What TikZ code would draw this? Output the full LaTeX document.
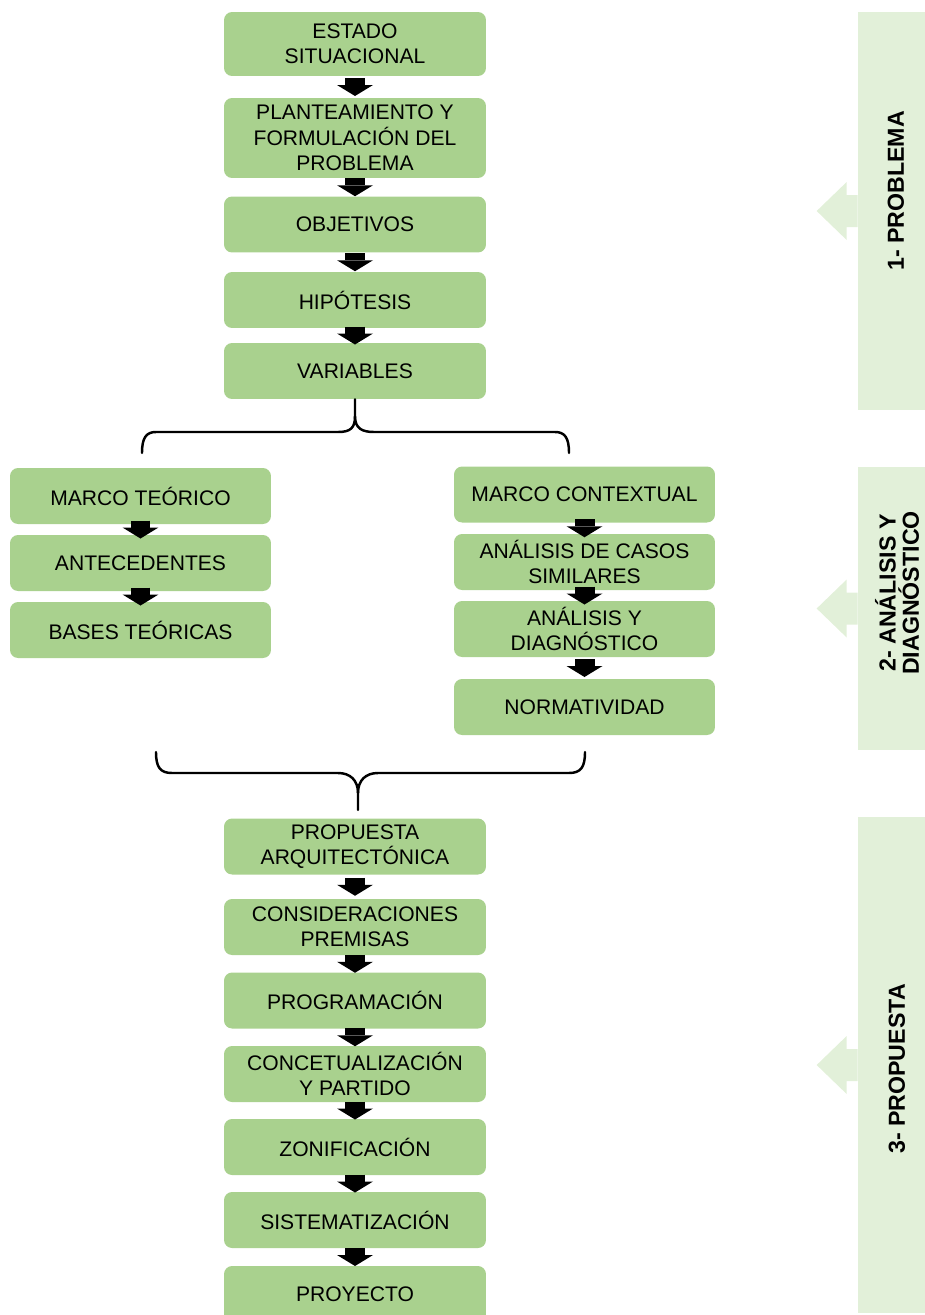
\documentclass[tikz,border=0pt]{standalone}
\usepackage{fontspec}
\setmainfont{Liberation Sans}
\usetikzlibrary{arrows.meta,calc}
\definecolor{boxgreen}{HTML}{A9D18E}
\definecolor{bandgreen}{HTML}{E2F0D9}
\tikzset{
  stage/.style={rectangle, rounded corners=0.16cm, fill=boxgreen, minimum width=5.24cm,
    minimum height=1.12cm, inner sep=0pt, align=center, font=\fontsize{12}{14.4}\selectfont},
  band/.style={rectangle, fill=bandgreen, minimum width=1.34cm, inner sep=0pt},
  bandlabel/.style={rotate=90, align=center, font=\bfseries\fontsize{13.2}{13.2}\selectfont},
  flow/.style={line width=0.4cm, -{Triangle[width=0.72cm,length=0.22cm,line width=0pt]}},
  brace/.style={line width=1.4pt, line cap=round}
}
\begin{document}
\begin{tikzpicture}[x=0.02cm, y=-0.02cm]
    \clip (0,0) rectangle (925,1315);

    % Side bands
    \node[band, minimum height=7.96cm] (pb1) at (891.5,211) {};
    \node[band, minimum height=5.66cm] (pb2) at (891.5,608.5) {};
    \node[band, minimum height=9.92cm] (pb3) at (891.5,1065) {};
    \foreach \b in {pb1,pb2,pb3}
        \fill[bandgreen] ($(\b.west)+(0,-16)$) -- ++(-11,0) -- ++(0,-13) -- ++(-30,29)
            -- ++(30,29) -- ++(0,-13) -- ++(11,0) -- cycle;
    \node[bandlabel] (lb1) at (896,191) {1- PROBLEMA};
    \node[bandlabel] (lb2) at (897,593) {2- ANÁLISIS Y\\DIAGNÓSTICO};
    \node[bandlabel] (lb3) at (897,1069) {3- PROPUESTA};

    % Define node positions
    \node[stage, minimum height=1.28cm] (est) at (355,44) {ESTADO\\SITUACIONAL};
    \node[stage, minimum height=1.6cm] (plan) at (355,138) {PLANTEAMIENTO Y\\FORMULACIÓN DEL\\PROBLEMA};
    \node[stage] (obj) at (355,224.5) {OBJETIVOS};
    \node[stage] (hip) at (355,300) {HIPÓTESIS};
    \node[stage] (var) at (355,371) {VARIABLES};

    \node[stage, minimum width=5.22cm] (mt) at (140.5,496) {MARCO TEÓRICO};
    \node[stage, minimum width=5.22cm] (ant) at (140.5,563) {ANTECEDENTES};
    \node[stage, minimum width=5.22cm] (bt) at (140.5,630) {BASES TEÓRICAS};

    \node[stage, minimum width=5.22cm] (mc) at (584.5,494.5) {MARCO CONTEXTUAL};
    \node[stage, minimum width=5.22cm] (acs) at (584.5,562) {ANÁLISIS DE CASOS\\SIMILARES};
    \node[stage, minimum width=5.22cm] (ad) at (584.5,629) {ANÁLISIS Y\\DIAGNÓSTICO};
    \node[stage, minimum width=5.22cm] (nor) at (584.5,707) {NORMATIVIDAD};

    \node[stage] (prop) at (355,846.5) {PROPUESTA\\ARQUITECTÓNICA};
    \node[stage] (cons) at (355,927) {CONSIDERACIONES\\PREMISAS};
    \node[stage] (prog) at (355,1000.5) {PROGRAMACIÓN};
    \node[stage] (conc) at (355,1074) {CONCETUALIZACIÓN\\Y PARTIDO};
    \node[stage] (zon) at (355,1147) {ZONIFICACIÓN};
    \node[stage] (sist) at (355,1220) {SISTEMATIZACIÓN};
    \node[stage] (proy) at (355,1294) {PROYECTO};

    % Draw arrows
    \foreach \a/\b in {est/plan, plan/obj, obj/hip, hip/var, mt/ant, ant/bt,
        mc/acs, acs/ad, ad/nor, prop/cons, cons/prog, prog/conc, conc/zon, zon/sist, sist/proy}
        \draw[flow] ($(\a.south)!.5!(\b.north)+(0,-9)$) -- ($(\a.south)!.5!(\b.north)+(0,9)$);

    % Braces
    \coordinate (tl) at (142,453); \coordinate (tr) at (569,453);
    \coordinate (bl) at (156,752); \coordinate (br) at (585,752);
    \coordinate (bm) at (358,810);
    \draw[brace] (var.south) -- ++(0,17) .. controls ++(0,12) and (350,432) .. (338,432)
        -- (156,432) .. controls (146,432) and (142,438) .. (tl);
    \draw[brace] ($(var.south)+(0,17)$) .. controls ++(0,12) and (362,432) .. (374,432)
        -- (555,432) .. controls (565,432) and (569,438) .. (tr);
    \draw[brace] (bl) .. controls (156,767) and (160,773) .. (172,773)
        -- (338,773) .. controls (350,773) and (358,780) .. (358,793) -- (bm);
    \draw[brace] (br) .. controls (585,767) and (581,773) .. (569,773)
        -- (378,773) .. controls (366,773) and (358,780) .. (358,793);
\end{tikzpicture}
\end{document}
